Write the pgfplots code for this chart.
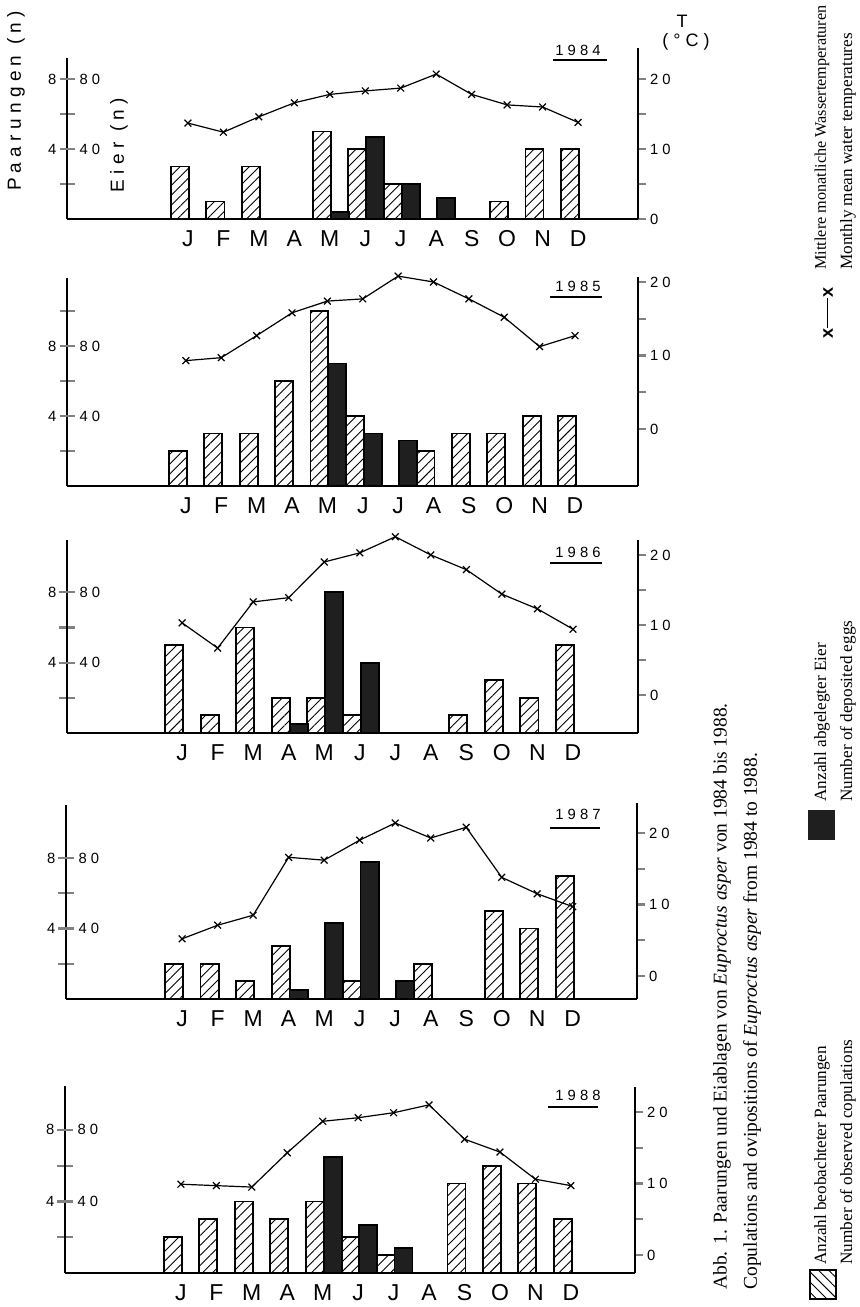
\documentclass[border=0pt]{standalone}
\usepackage{fontspec}
\usepackage{pgfplots}
\pgfplotsset{compat=1.18}
\usetikzlibrary{patterns.meta}
\setmainfont{Liberation Serif}
\newfontfamily\cf[LetterSpace=28]{Liberation Sans}
\newcommand\tickf{\cf\fontsize{7.4}{8}\selectfont}
\newcommand\monf{\fontspec{Liberation Sans}\fontsize{11.5}{12}\selectfont}
\pgfplotsset{
  panelL/.style={scale only axis, anchor=south west, ymin=0, clip=false,
    axis x line=bottom, axis y line=left, axis line style={-, line width=1.1pt},
    xtick={1,...,12}, xticklabels={J,F,M,A,M,J,J,A,S,O,N,D}, xtick style={draw=none},
    xticklabel style={font=\monf, yshift=1.5pt},
    tick align=center, major tick length=7.5pt, ytick style={line width=1.1pt},
    yticklabel style={font=\tickf, xshift=2pt},
    extra y ticks={40,80}, extra y tick labels={40,80},
    extra y tick style={yticklabel style={anchor=west, xshift=4.5pt}},
    /pgf/number format/assume math mode=true},
  panelR/.style={scale only axis, anchor=south west, clip=false,
    axis y line=right, axis x line=none, axis line style={-, line width=1.1pt},
    ytick={0,5,10,15,20}, yticklabels={0,,10,,20}, tick align=outside, major tick length=4pt,
    ytick style={line width=1.1pt},
    yticklabel style={font=\tickf, xshift=-1.5pt},
    /pgf/number format/assume math mode=true},
  hatch/.style={ybar, bar width=0.508, bar shift=-0.226, draw=black, line width=0.9pt,
    pattern={Lines[angle=45,distance=3.5pt,line width=0.45pt]}},
  blackbar/.style={ybar, bar width=0.508, bar shift=0.28, draw=black, fill=black!88, line width=0.9pt},
  temp/.style={black, line width=0.6pt, mark=x, mark size=2.4pt, mark options={line width=0.6pt}},
}
\begin{document}
\begin{tikzpicture}
\useasboundingbox (0,0) rectangle (430pt,653.5pt);

% ---------------- 1984
\begin{axis}[panelL, at={(33.5pt,544pt)}, width=285.5pt, height=80.5pt, xmin=-2.41, xmax=13.69, ymax=92,
  ytick={20,40,60,80}, yticklabels={,4,,8}]
\addplot[hatch] coordinates {(1,30) (2,10) (3,30) (5,50) (6,40) (7,20) (10,10) (11,40) (12,40)};
\addplot[blackbar] coordinates {(5,4) (6,47) (7,20) (8,12)};
\end{axis}
\begin{axis}[panelR, at={(33.5pt,544pt)}, width=285.5pt, height=85.5pt, xmin=-2.41, xmax=13.69, ymin=0, ymax=24.43]
\addplot[temp] coordinates {(1,13.7) (2,12.4) (3,14.6) (4,16.6) (5,17.8) (6,18.3) (7,18.7) (8,20.7) (9,17.8) (10,16.3) (11,16.0) (12,13.8)};
\end{axis}

% ---------------- 1985
\begin{axis}[panelL, at={(33.5pt,410.5pt)}, width=285.5pt, height=104pt, xmin=-2.36, xmax=13.78, ymax=118.9,
  ytick={20,40,60,80,100}, yticklabels={,4,,8,}]
\addplot[hatch] coordinates {(1,20) (2,30) (3,30) (4,60) (5,100) (6,40) (8,20) (9,30) (10,30) (11,40) (12,40)};
\addplot[blackbar] coordinates {(5,70) (6,30) (7,26)};
\end{axis}
\begin{axis}[panelR, at={(33.5pt,410.5pt)}, width=285.5pt, height=104.5pt, xmin=-2.36, xmax=13.78, ymin=-7.76, ymax=20.68]
\addplot[temp] coordinates {(1,9.3) (2,9.7) (3,12.7) (4,15.8) (5,17.4) (6,17.7) (7,20.8) (8,20.0) (9,17.7) (10,15.2) (11,11.2) (12,12.7)};
\end{axis}

% ---------------- 1986
\begin{axis}[panelL, at={(33.5pt,287pt)}, width=285.5pt, height=96.5pt, xmin=-2.24, xmax=13.83, ymax=109.7,
  ytick={20,40,60,80}, yticklabels={,4,,8}]
\addplot[hatch] coordinates {(1,50) (2,10) (3,60) (4,20) (5,20) (6,10) (9,10) (10,30) (11,20) (12,50)};
\addplot[blackbar] coordinates {(4,5) (5,80) (6,40)};
\end{axis}
\begin{axis}[panelR, at={(33.5pt,287pt)}, width=285.5pt, height=96.5pt, xmin=-2.24, xmax=13.83, ymin=-5.43, ymax=22.14]
\addplot[temp] coordinates {(1,10.3) (2,6.7) (3,13.3) (4,13.9) (5,19.0) (6,20.3) (7,22.6) (8,20.0) (9,17.9) (10,14.4) (11,12.3) (12,9.4)};
\end{axis}

% ---------------- 1987
\begin{axis}[panelL, at={(33pt,154pt)}, width=285.5pt, height=97pt, xmin=-2.27, xmax=13.81, ymax=110.2,
  ytick={20,40,60,80}, yticklabels={,4,,8}]
\addplot[hatch] coordinates {(1,20) (2,20) (3,10) (4,30) (6,10) (8,20) (10,50) (11,40) (12,70)};
\addplot[blackbar] coordinates {(4,5) (5,43) (6,78) (7,10)};
\end{axis}
\begin{axis}[panelR, at={(33pt,154pt)}, width=285.5pt, height=98pt, xmin=-2.27, xmax=13.81, ymin=-3.22, ymax=24.2]
\addplot[temp] coordinates {(1,5.2) (2,7.1) (3,8.5) (4,16.6) (5,16.2) (6,19.0) (7,21.4) (8,19.3) (9,20.8) (10,13.8) (11,11.5) (12,9.7)};
\end{axis}

% ---------------- 1988
\begin{axis}[panelL, at={(32.5pt,17pt)}, width=285pt, height=93.5pt, xmin=-2.27, xmax=13.81, ymax=104.5,
  ytick={20,40,60,80}, yticklabels={,4,,8}]
\addplot[hatch] coordinates {(1,20) (2,30) (3,40) (4,30) (5,40) (6,20) (7,10) (9,50) (10,60) (11,50) (12,30)};
\addplot[blackbar] coordinates {(5,65) (6,27) (7,14)};
\end{axis}
\begin{axis}[panelR, at={(32.5pt,17pt)}, width=285pt, height=93pt, xmin=-2.27, xmax=13.81, ymin=-2.52, ymax=23.5]
\addplot[temp] coordinates {(1,9.9) (2,9.7) (3,9.5) (4,14.3) (5,18.7) (6,19.2) (7,19.9) (8,21.0) (9,16.2) (10,14.4) (11,10.6) (12,9.7)};
\end{axis}

% ---------------- texts
\node[rotate=90, font=\cf\fontsize{9.5}{10}\selectfont] at (8pt,603pt) {Paarungen (n)};
\node[rotate=90, font=\cf\fontsize{9.5}{10}\selectfont] at (59.5pt,581pt) {Eier (n)};
\node[font=\cf\fontsize{9}{10}\selectfont] at (341pt,643pt) {T};
\node[font=\cf\fontsize{9}{10}\selectfont] at (343pt,632.5pt) {(°C)};

\foreach \yr/\ty in {1984/628.5, 1985/510.5, 1986/377.5, 1987/246.5, 1988/106}{
  \node[font=\tickf, inner sep=0pt] at (289pt,\ty pt) {\yr};
}
\draw[line width=0.6pt] (276.5pt,623.5pt) -- (303.5pt,623.5pt);
\draw[line width=0.6pt] (275pt,505pt) -- (301pt,505pt);
\draw[line width=0.6pt] (275pt,372pt) -- (301pt,372pt);
\draw[line width=0.6pt] (275pt,239.5pt) -- (300pt,239.5pt);
\draw[line width=0.6pt] (274pt,100pt) -- (299pt,100pt);

% caption
\node[rotate=90, anchor=west, font=\fontsize{9.75}{11}\selectfont, inner sep=0pt] at (361pt,8.5pt)
  {Abb. 1. Paarungen und Eiablagen von \textit{Euproctus asper} von 1984 bis 1988.};
\node[rotate=90, anchor=west, font=\fontsize{9.75}{11}\selectfont, inner sep=0pt] at (376pt,8.5pt)
  {Copulations and ovipositions of \textit{Euproctus asper} from 1984 to 1988.};

% legend
\path[draw=black, line width=0.8pt, pattern={Lines[angle=-45,distance=3.6pt,line width=0.45pt]}] (405pt,4pt) rectangle (418pt,18.5pt);
\node[rotate=90, anchor=west, font=\fontsize{8.6}{10}\selectfont, inner sep=0pt] at (411pt,21pt) {Anzahl beobachteter Paarungen};
\node[rotate=90, anchor=west, font=\fontsize{8.6}{10}\selectfont, inner sep=0pt] at (424pt,21pt) {Number of observed copulations};
\fill[black!88] (404pt,233.5pt) rectangle (417.5pt,248.5pt);
\node[rotate=90, anchor=west, font=\fontsize{8.6}{10}\selectfont, inner sep=0pt] at (411pt,252.5pt) {Anzahl abgelegter Eier};
\node[rotate=90, anchor=west, font=\fontsize{8.6}{10}\selectfont, inner sep=0pt] at (424pt,252.5pt) {Number of deposited eggs};
\node[rotate=90, font=\fontspec{Liberation Sans}\fontsize{9}{10}\selectfont\bfseries] at (414pt,497pt) {x\rule[0.28em]{15pt}{0.6pt}x};
\node[rotate=90, anchor=west, font=\fontsize{8.1}{10}\selectfont, inner sep=0pt] at (411pt,518.5pt) {Mittlere monatliche Wassertemperaturen};
\node[rotate=90, anchor=west, font=\fontsize{8.6}{10}\selectfont, inner sep=0pt] at (424pt,518.5pt) {Monthly mean water temperatures};
\end{tikzpicture}
\end{document}
